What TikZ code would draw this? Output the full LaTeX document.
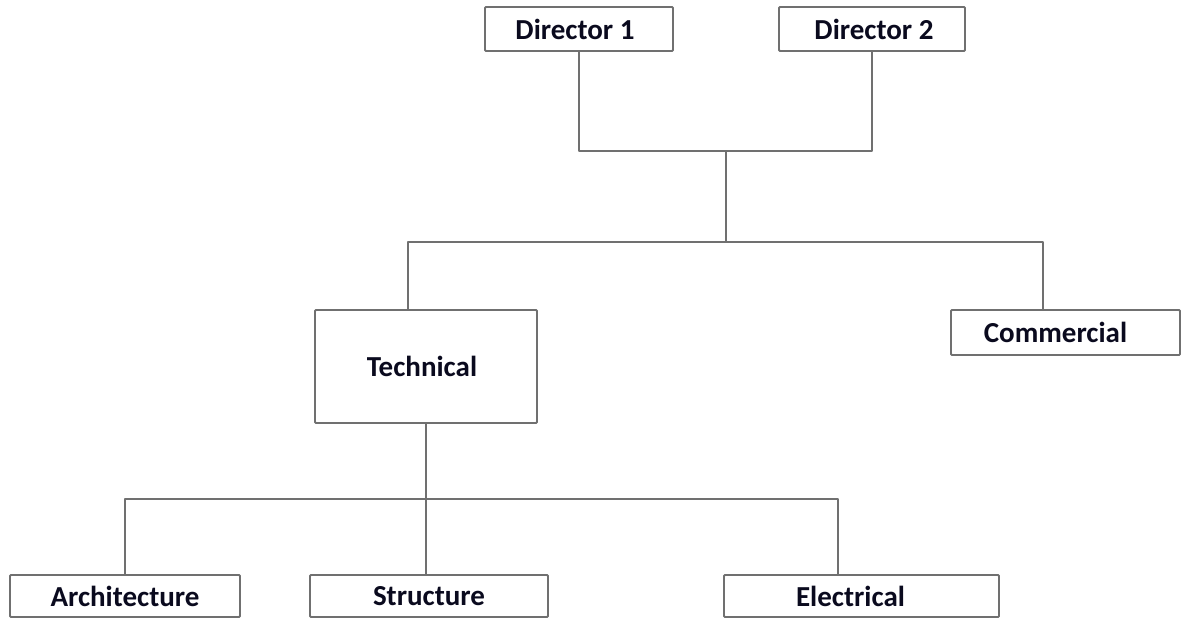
\documentclass[tikz,border=0pt]{standalone}
\usepackage{fontspec}
\setmainfont{Carlito}
\definecolor{linegray}{RGB}{112,112,112}
\definecolor{txt}{RGB}{10,10,30}
\begin{document}
\begin{tikzpicture}[x=1pt,y=-1pt,
  box/.style={draw=linegray, line width=1.8pt, rectangle, inner sep=0pt, rounded corners=1pt,
    text=txt, font=\fontsize{29}{32}\selectfont\bfseries},
  conn/.style={draw=linegray, line width=1.8pt, line join=round}]
\useasboundingbox (0,0) rectangle (1182,618);
\fill[white] (0,0) rectangle (1182,618);
% nodes
\node[box, minimum width=188pt, minimum height=44pt] (d1) at (579,29) {\hspace*{-8pt}Director 1};
\node[box, minimum width=186pt, minimum height=44pt] (d2) at (872,29) {\hspace*{4pt}Director 2};
\node[box, minimum width=222pt, minimum height=113pt] (tech) at (426,366.5) {\hspace*{-8pt}Technical};
\node[box, minimum width=229pt, minimum height=45pt] (comm) at (1065.5,332.5) {\hspace*{-20pt}Commercial};
\node[box, minimum width=230pt, minimum height=42pt] (arch) at (125,596) {Architecture};
\node[box, minimum width=238pt, minimum height=42pt] (struct) at (429,596) {Structure};
\node[box, minimum width=275pt, minimum height=42pt] (elec) at (861.5,596) {\hspace*{-22pt}Electrical};
% junction coordinates
\coordinate (j1) at (726,151);
\coordinate (j2) at (726,242);
\coordinate (tl) at (408,242);
\coordinate (cr) at (1043,242);
\coordinate (j3) at (426,499);
\coordinate (er) at (838,499);
% connectors
\draw[conn] (d1.south) |- (j1) -| (d2.south);
\draw[conn] (j1) -- (j2);
\draw[conn] (tech.north -| tl) |- (cr) -- (comm.north -| cr);
\draw[conn] (tech.south) -- (j3);
\draw[conn] (arch.north) |- (er) -- (elec.north -| er);
\draw[conn] (struct.north -| j3) -- (j3);
\end{tikzpicture}
\end{document}
